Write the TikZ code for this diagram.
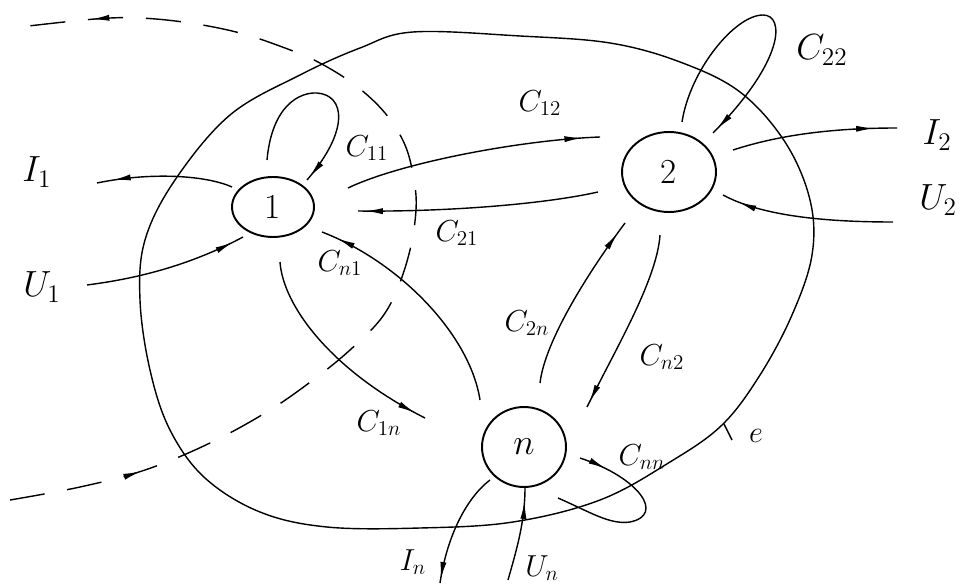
\documentclass[tikz,border=0pt]{standalone}
\usepackage{amsmath,amssymb}
\usepackage{tikz}
\usetikzlibrary{arrows.meta,calc,shapes.geometric,decorations.markings}

\begin{document}
\begin{tikzpicture}[x=0.02cm,y=-0.02cm,line width=0.8pt,
  vert/.style={ellipse,draw,line width=1.1pt,inner sep=0pt,font=\fontsize{20}{24}\selectfont},
  lbl/.style={font=\fontsize{18}{21}\selectfont},
  biglbl/.style={font=\fontsize{20}{24}\selectfont},
  arrowat/.style={postaction={decorate,decoration={markings,
      mark=at position #1 with {\arrow{Latex[length=10pt,width=3.5pt]}}}}},
  orbit/.style={dash pattern=on 20pt off 13pt}]
\useasboundingbox (0,0) rectangle (962,587);

% subsystems
\node[vert,minimum width=1.64cm,minimum height=1.2cm] (n1) at (273,207) {1};
\node[vert,minimum width=1.88cm,minimum height=1.6cm] (n2) at (669,172) {2};
\node[vert,minimum width=1.68cm,minimum height=1.6cm] (nn) at (524,447) {\(n\)};

% region e
\draw plot[smooth cycle,tension=0.6] coordinates {
  (413,32) (520,36) (610,43) (680,62) (740,92) (785,142) (810,200)
  (812,255) (792,315) (760,375) (722,425) (670,462) (600,500) (513,522)
  (420,528) (327,527) (260,512) (205,478) (170,430) (150,370) (140,300)
  (145,240) (175,180) (230,115) (300,75) (360,48)};
\coordinate (eTick) at (724,424);
\coordinate (eFoot) at (732,440);
\draw (eTick) -- (eFoot);
\node[lbl] (le) at (756,436) {\(e\)};

% orbit
\draw[orbit,arrowat=0.13,arrowat=0.93] plot[smooth,tension=0.6] coordinates {
  (10,500) (80,487) (145,470) (210,443) (270,410) (317,377) (350,350)
  (380,320) (397,290) (410,250) (416,210) (414,180) (405,145) (385,113)
  (355,85) (318,62) (285,48) (240,33) (190,23) (140,18) (95,19) (20,27)};

% links between subsystems
\draw[arrowat=0.93] ($(n1)+(75,-19)$) .. controls (400,163) and (520,140) .. ($(n2)+(-69,-35)$);
\draw[arrowat=0.97] ($(n2)+(-71,20)$) .. controls (540,205) and (440,212) .. ($(n1)+(85,4)$);
\draw[arrowat=0.93] ($(nn)+(-44,-47)$) .. controls (470,335) and (400,262) .. ($(n1)+(49,25)$);
\draw[arrowat=0.95] ($(n1)+(7,55)$) .. controls (283,305) and (330,370) .. ($(nn)+(-99,-29)$);
\draw[arrowat=0.93] ($(nn)+(16,-64)$) .. controls (545,340) and (590,270) .. ($(n2)+(-44,51)$);
\draw[arrowat=0.97] ($(n2)+(-9,63)$) .. controls (657,280) and (615,350) .. ($(nn)+(63,-40)$);

% self loops
\draw[arrowat=0.98] ($(n1)+(-6,-47)$) .. controls (272,105) and (300,92) .. (317,93)
  .. controls (345,95) and (350,130) .. ($(n1)+(34,-27)$);
\draw[arrowat=0.98] ($(n2)+(13,-50)$) .. controls (690,70) and (735,15) .. (763,15)
  .. controls (785,15) and (785,60) .. ($(n2)+(44,-39)$);
\draw[arrowat=0.15] ($(nn)+(56,11)$) .. controls (640,478) and (665,515) .. (630,522)
  .. controls (610,525) and (590,512) .. ($(nn)+(34,51)$);

% inputs and outputs
\coordinate (I1end) at (97,183);
\coordinate (U1beg) at (87,285);
\coordinate (I2end) at (897,128);
\coordinate (U2beg) at (893,222);
\coordinate (Inend) at (440,583);
\coordinate (Unbeg) at (508,580);
\draw[arrowat=0.88] ($(n1)+(-41,-20)$) .. controls (205,175) and (150,172) .. (I1end);
\draw[arrowat=0.93] (U1beg) .. controls (150,277) and (200,260) .. ($(n1)+(-30,30)$);
\draw[arrowat=0.86] ($(n2)+(64,-22)$) .. controls (770,138) and (820,128) .. (I2end);
\draw[arrowat=0.9] (U2beg) .. controls (820,222) and (760,215) .. ($(n2)+(54,23)$);
\draw[arrowat=0.97] ($(nn)+(-34,33)$) .. controls (470,495) and (448,530) .. (Inend);
\draw[arrowat=0.85] (Unbeg) .. controls (518,545) and (525,520) .. ($(nn)+(1,40)$);

% labels
\node[lbl] (lC11) at (367,148) {\(C_{11}\)};
\node[lbl] (lC12) at (540,103) {\(C_{12}\)};
\node[lbl] (lC21) at (457,233) {\(C_{21}\)};
\node[lbl] (lCn1) at (340,263) {\(C_{n1}\)};
\node[lbl] (lC1n) at (379,423) {\(C_{1n}\)};
\node[lbl] (lC2n) at (527,323) {\(C_{2n}\)};
\node[lbl] (lCn2) at (662,357) {\(C_{n2}\)};
\node[biglbl] (lC22) at (822,50) {\(C_{22}\)};
\node[lbl] (lCnn) at (642,457) {\(C_{nn}\)};
\node[biglbl] (lI1) at (37,172) {\(I_1\)};
\node[biglbl] (lU1) at (42,287) {\(U_1\)};
\node[biglbl] (lI2) at (937,135) {\(I_2\)};
\node[biglbl] (lU2) at (938,200) {\(U_2\)};
\node[lbl] (lIn) at (413,562) {\(I_n\)};
\node[lbl] (lUn) at (542,568) {\(U_n\)};
\end{tikzpicture}
\end{document}
